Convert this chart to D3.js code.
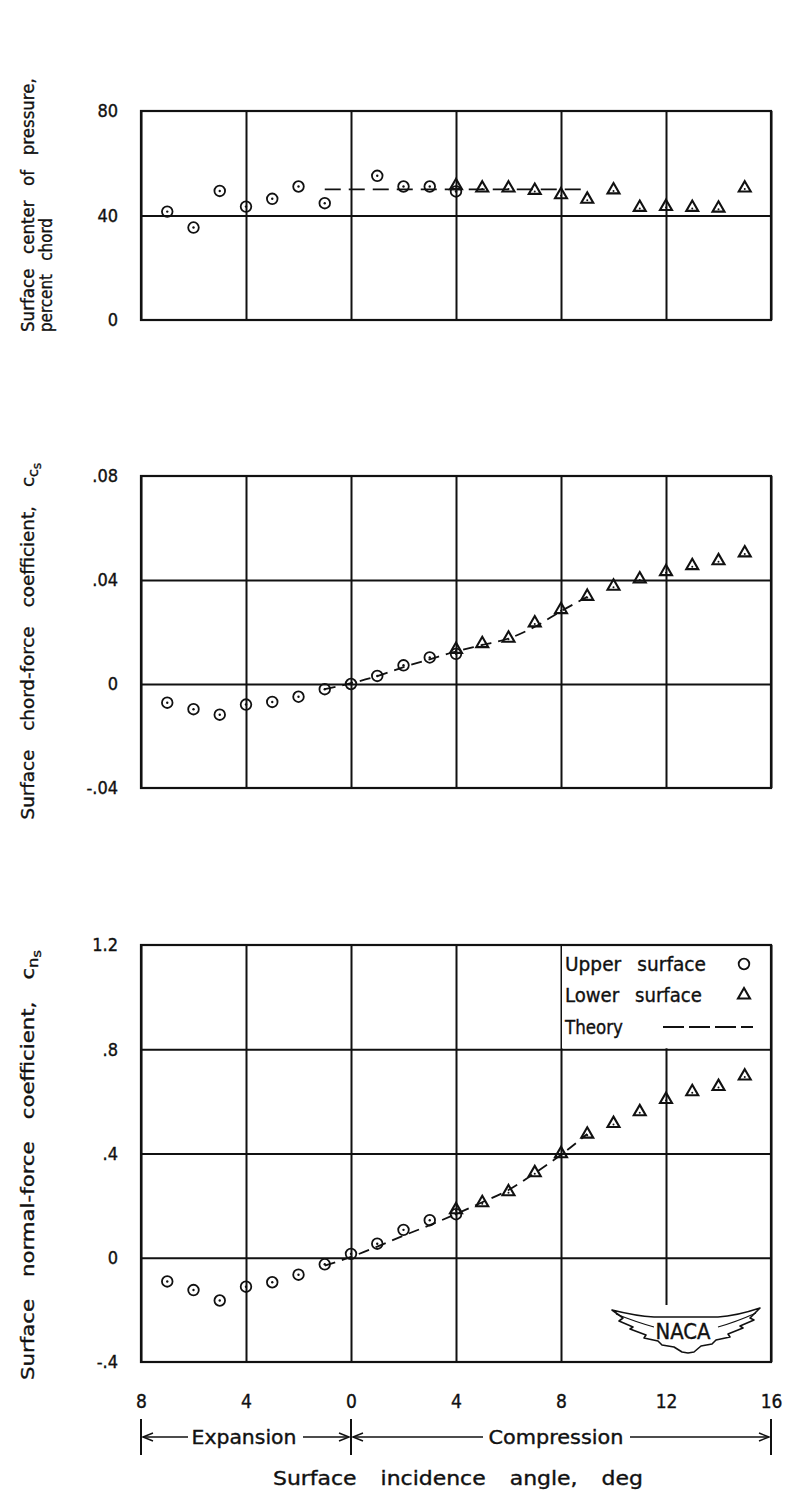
<!DOCTYPE html>
<html><head><meta charset="utf-8">
<script src="https://cdn.jsdelivr.net/npm/d3@7"></script>
<style>
html,body{margin:0;padding:0;background:#fff;}
svg{display:block;}
text{font-family:"DejaVu Sans Condensed","DejaVu Sans",sans-serif;font-stretch:condensed;fill:#111;stroke:#111;stroke-width:0.35px;}
</style></head><body>
<svg id="chart" width="789" height="1511"></svg>
<script>
// Surface incidence angle, deg (negative = expansion side)
const xTicks = [-8, -4, 0, 4, 8, 12, 16];
const xTickLabels = ["8", "4", "0", "4", "8", "12", "16"];

const upperAngles = [-7, -6, -5, -4, -3, -2, -1, 0, 1, 2, 3, 4];
const cpUpperAngles = [-7, -6, -5, -4, -3, -2, -1, 1, 2, 3, 4];
const lowerAngles = [4, 5, 6, 7, 8, 9, 10, 11, 12, 13, 14, 15];
const theoryAngles = [-1, 0, 1, 2, 3, 4, 5, 6, 7, 8, 9];

// Surface center of pressure, percent chord
const cpUpper = [41.5, 35.4, 49.4, 43.4, 46.4, 51.1, 44.7, 55.2, 51.1, 51.1, 49.2];
const cpLower = [51.4, 50.5, 50.5, 49.6, 47.9, 46.2, 49.8, 43.1, 43.4, 43.1, 42.8, 50.5];
const cpTheory = [50, 50, 50, 50, 50, 50, 50, 50, 50, 50, 50];
const cpTicks = [0, 40, 80];
const cpTickLabels = ["0", "40", "80"];

// Surface chord-force coefficient
const ccUpper = [-0.0072, -0.0097, -0.0118, -0.0079, -0.0069, -0.0049, -0.0020, 0.0000, 0.0031, 0.0072, 0.0102, 0.0116];
const ccLower = [0.0133, 0.0155, 0.0176, 0.0235, 0.0286, 0.0337, 0.0376, 0.0404, 0.0432, 0.0455, 0.0474, 0.0504];
const ccTheory = [-0.0020, 0.0003, 0.0030, 0.0065, 0.0095, 0.0125, 0.0150, 0.0175, 0.0220, 0.0280, 0.0335];
const ccTicks = [-0.04, 0, 0.04, 0.08];
const ccTickLabels = ["-.04", "0", ".04", ".08"];

// Surface normal-force coefficient
const cnUpper = [-0.091, -0.124, -0.164, -0.111, -0.094, -0.065, -0.025, 0.015, 0.054, 0.107, 0.144, 0.167];
const cnLower = [0.184, 0.211, 0.253, 0.326, 0.399, 0.474, 0.515, 0.560, 0.607, 0.637, 0.657, 0.697];
const cnTheory = [-0.030, 0.003, 0.043, 0.085, 0.125, 0.168, 0.213, 0.260, 0.325, 0.395, 0.475];
const cnTicks = [-0.4, 0, 0.4, 0.8, 1.2];
const cnTickLabels = ["-.4", "0", ".4", ".8", "1.2"];

const legendLabels = ["Upper surface", "Lower surface", "Theory"];

const ink = "#111";
const svg = d3.select("#chart");
const x = d3.scaleLinear().domain([-8, 16]).range([141, 771]);

const panels = [
  { top: 111, bottom: 320, domain: [0, 80], ticks: cpTicks, labels: cpTickLabels, grid: [40], dash: "16,8",
    upperX: cpUpperAngles, upper: cpUpper, lower: cpLower, theory: cpTheory },
  { top: 476, bottom: 788, domain: [-0.04, 0.08], ticks: ccTicks, labels: ccTickLabels, grid: [0, 0.04], dash: "11,7",
    upperX: upperAngles, upper: ccUpper, lower: ccLower, theory: ccTheory },
  { top: 945, bottom: 1362, domain: [-0.4, 1.2], ticks: cnTicks, labels: cnTickLabels, grid: [0, 0.4, 0.8], dash: "11,7",
    upperX: upperAngles, upper: cnUpper, lower: cnLower, theory: cnTheory }
];

// Lettering set to a given run length: fixed word gap, glyph width stretched to fit.
function label(parent, cx, cy, rot, size, gapEm, target, build) {
  const g = parent.append("g").attr("transform", `translate(${cx},${cy}) rotate(${rot})`);
  const inner = g.append("g");
  const t = inner.append("text").attr("font-size", size);
  build(t);
  const w = t.node().getComputedTextLength();
  const spaces = (t.text().match(/ /g) || []).length;
  const gap = gapEm * size;
  const s = target / (w + spaces * gap);
  if (spaces > 0) t.style("word-spacing", gap + "px");
  inner.attr("transform", `scale(${s},1)`);
  t.attr("x", -target / (2 * s));
  return t;
}

function circleMark(g, cx, cy, dot) {
  g.append("circle").attr("cx", cx).attr("cy", cy).attr("r", 5.3)
    .attr("fill", "none").attr("stroke", ink).attr("stroke-width", 1.8);
  if (dot) g.append("circle").attr("cx", cx).attr("cy", cy).attr("r", 1.2).attr("fill", ink);
}
const triPath = d3.symbol(d3.symbolTriangle, 62)();
function triMark(g, cx, cy, dot) {
  g.append("path").attr("d", triPath).attr("transform", `translate(${cx},${cy})`)
    .attr("fill", "none").attr("stroke", ink).attr("stroke-width", 2.1).attr("stroke-linejoin", "miter");
  if (dot) g.append("circle").attr("cx", cx).attr("cy", cy + 1).attr("r", 1).attr("fill", ink);
}

panels.forEach((p, i) => {
  const y = d3.scaleLinear().domain(p.domain).range([p.bottom, p.top]);
  const g = svg.append("g");
  const h = p.bottom - p.top;

  // vertical grid lines every 4 deg
  g.append("g").attr("transform", `translate(0,${p.bottom})`)
    .call(d3.axisBottom(x).tickValues(xTicks).tickSize(-h).tickFormat(""))
    .call(a => a.select(".domain").remove())
    .call(a => a.selectAll("line").attr("stroke", ink).attr("stroke-width", 2));

  // horizontal grid lines
  g.append("g").attr("transform", `translate(${x.range()[0]},0)`)
    .call(d3.axisRight(y).tickValues(p.grid).tickSize(x.range()[1] - x.range()[0]).tickFormat(""))
    .call(a => a.select(".domain").remove())
    .call(a => a.selectAll("line").attr("stroke", ink).attr("stroke-width", 2));

  // left tick labels
  g.append("g").attr("transform", `translate(${x.range()[0]},0)`)
    .call(d3.axisLeft(y).tickValues(p.ticks).tickSize(0).tickPadding(23)
      .tickFormat((d, k) => p.labels[k]))
    .call(a => a.select(".domain").remove())
    .call(a => a.selectAll("text").attr("font-size", 18).attr("font-family", null).attr("fill", ink));

  // bottom panel: legend box and emblem sit over the grid
  if (i === 2) {
    g.append("rect").attr("x", x(8) + 1).attr("y", p.top).attr("width", x(16) - x(8) - 1)
      .attr("height", y(0.8) - p.top - 1).attr("fill", "#fff");
    g.append("rect").attr("x", 604).attr("y", 1305).attr("width", 160).attr("height", p.bottom - 1305)
      .attr("fill", "#fff");
  }

  // frame
  g.append("rect").attr("x", x(-8)).attr("y", p.top).attr("width", x(16) - x(-8)).attr("height", h)
    .attr("fill", "none").attr("stroke", ink).attr("stroke-width", 2.2);

  // theory curve
  const line = d3.line().x((d, k) => x(theoryAngles[k])).y(d => y(d)).curve(d3.curveMonotoneX);
  g.append("path").attr("d", line(p.theory)).attr("fill", "none").attr("stroke", ink)
    .attr("stroke-width", 1.8).attr("stroke-dasharray", p.dash);

  // data points
  p.upper.forEach((v, k) => circleMark(g, x(p.upperX[k]), y(v), true));
  p.lower.forEach((v, k) => triMark(g, x(lowerAngles[k]), y(v), true));
});

// y-axis titles
label(svg, 34, 205, -90, 18, 0.5, 254, t => t.text("Surface center of pressure,"));
label(svg, 52, 275, -90, 18, 0.5, 114, t => t.text("percent chord"));
label(svg, 34, 641, -90, 18, 0.65, 357, t => {
  t.append("tspan").text("Surface chord-force coefficient, c");
  t.append("tspan").attr("font-size", 14).attr("dy", 4).text("c");
  t.append("tspan").attr("font-size", 12).attr("dy", 3).text("s");
});
label(svg, 34, 1165, -90, 18, 0.65, 430, t => {
  t.append("tspan").text("Surface normal-force coefficient, c");
  t.append("tspan").attr("font-size", 14).attr("dy", 4).text("n");
  t.append("tspan").attr("font-size", 12).attr("dy", 3).text("s");
});

// x tick labels
svg.append("g").attr("transform", "translate(0,1362)")
  .call(d3.axisBottom(x).tickValues(xTicks).tickSize(0).tickPadding(46)
    .tickFormat((d, k) => xTickLabels[k]))
  .call(a => a.select(".domain").remove())
  .call(a => a.selectAll("text").attr("font-size", 19).attr("font-family", null).attr("fill", ink)
    .attr("dy", "0"));

// expansion / compression spans
const ay = 1437;
[-8, 0, 16].forEach(a => {
  svg.append("line").attr("x1", x(a)).attr("x2", x(a)).attr("y1", 1419).attr("y2", 1455)
    .attr("stroke", ink).attr("stroke-width", 2);
});
function arrow(x1, x2) {
  svg.append("line").attr("x1", x1).attr("x2", x2).attr("y1", ay).attr("y2", ay)
    .attr("stroke", ink).attr("stroke-width", 1.5);
  const dir = x2 > x1 ? -1 : 1;
  svg.append("path").attr("d", `M${x2 + dir * 10},${ay - 4}L${x2},${ay}L${x2 + dir * 10},${ay + 4}`)
    .attr("fill", "none").attr("stroke", ink).attr("stroke-width", 1.5);
}
arrow(188, x(-8) + 2);
arrow(303, x(0) - 2);
arrow(483, x(0) + 2);
arrow(630, x(16) - 2);
label(svg, 244, 1444, 0, 20, 0.8, 105, t => t.text("Expansion"));
label(svg, 556, 1444, 0, 20, 0.8, 135, t => t.text("Compression"));
label(svg, 458, 1485, 0, 20, 0.7, 370, t => t.text("Surface incidence angle, deg"));

// legend
const lg = svg.append("g");
const rowsY = [964, 995, 1027];
const legendLen = [141, 137, 58];
legendLabels.forEach((s, k) => {
  label(lg, 565 + legendLen[k] / 2, rowsY[k] + 7, 0, 20, 0.5, legendLen[k], t => t.text(s));
});
circleMark(lg, 744, rowsY[0], false);
triMark(lg, 744, rowsY[1], false);
lg.append("line").attr("x1", 663).attr("x2", 753).attr("y1", rowsY[2]).attr("y2", rowsY[2])
  .attr("stroke", ink).attr("stroke-width", 1.8).attr("stroke-dasharray", "21,5");

// NACA emblem
const logo = svg.append("g").attr("transform", "translate(686,1331)");
logo.append("path")
  .attr("d", "M-74,-21 Q-50,-15 -32,-14 L32,-14 Q50,-15 74,-23 L64,-13 L68,-11 L54,-5 L57,-3 L42,3 L44,6 L30,9 L26,13 L15,15 L8,21 L2,22 L-4,21 L-12,16 L-24,14 L-28,10 L-42,7 L-40,4 L-56,-2 L-53,-4 L-67,-10 L-63,-13 Z")
  .attr("fill", "#fff").attr("stroke", ink).attr("stroke-width", 1.6).attr("stroke-linejoin", "round");
logo.append("path").attr("d", "M-70,-17 Q-50,-9 -32,-4 M70,-18 Q50,-9 32,-4")
  .attr("fill", "none").attr("stroke", ink).attr("stroke-width", 1.1);
label(logo, -3, 8, 0, 22, 0, 55, t => t.text("NACA"));
</script>
</body></html>
